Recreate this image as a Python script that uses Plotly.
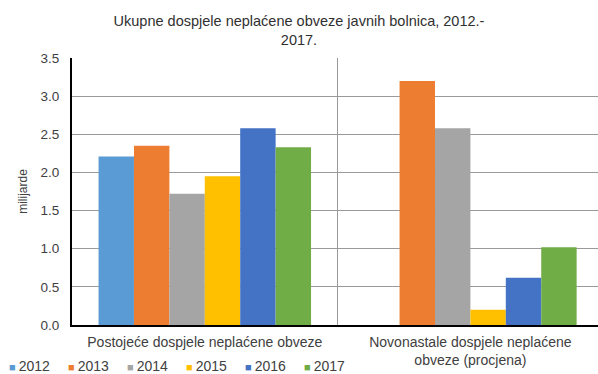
import plotly.graph_objects as go

# Data (billions of kuna)
categories = [
    "Postojeće dospjele neplaćene obveze",
    "Novonastale dospjele neplaćene<br>obveze (procjena)",
]
years = ["2012", "2013", "2014", "2015", "2016", "2017"]
values_2012 = [2.21, None]
values_2013 = [2.35, 3.20]
values_2014 = [1.72, 2.58]
values_2015 = [1.95, 0.20]
values_2016 = [2.58, 0.62]
values_2017 = [2.33, 1.02]
series = [values_2012, values_2013, values_2014, values_2015, values_2016, values_2017]
colors = ["#5B9BD5", "#ED7D31", "#A5A5A5", "#FFC000", "#4472C4", "#70AD47"]
y_ticks = [0.0, 0.5, 1.0, 1.5, 2.0, 2.5, 3.0, 3.5]

W, H = 598, 374
M_L, M_R, M_T, M_B = 72, 0, 58, 49
FONT = "Liberation Sans, Arial, sans-serif"
TEXT = "#404040"

fig = go.Figure()
for name, vals, col in zip(years, series, colors):
    fig.add_trace(go.Bar(
        x=categories, y=vals, name=name,
        marker=dict(color=col, line=dict(width=0)),
        showlegend=False,
    ))

# Compact legend row: coloured square + year label
plot_w = W - M_L - M_R
plot_h = H - M_T - M_B


def px_to_paper_x(px):
    return (px - M_L) / plot_w


def px_to_paper_y(py):
    return (H - M_B - py) / plot_h


legend_x0, legend_step, legend_y = 7, 59, 366
for i, (name, col) in enumerate(zip(years, colors)):
    fig.add_annotation(
        x=px_to_paper_x(legend_x0 + i * legend_step), y=px_to_paper_y(legend_y),
        xref="paper", yref="paper", xanchor="left", yanchor="middle",
        showarrow=False,
        text=f"<span style='color:{col};font-size:11px'>■ </span>{name}",
        font=dict(family=FONT, size=14, color=TEXT),
    )

fig.update_layout(
    width=W, height=H,
    margin=dict(l=M_L, r=M_R, t=M_T, b=M_B),
    paper_bgcolor="white", plot_bgcolor="white",
    barmode="group", bargap=0.2, bargroupgap=0,
    font=dict(family=FONT, size=13, color=TEXT),
    title=dict(
        text="Ukupne dospjele neplaćene obveze javnih bolnica, 2012.-<br>2017.",
        x=0.5, xref="container", xanchor="center",
        y=0.93, yref="container", yanchor="top",
        font=dict(family=FONT, size=14.5, color="#303030"),
    ),
    xaxis=dict(
        type="category",
        range=[-0.5, -0.5 + plot_w / 265.6],
        tickson="boundaries",
        showgrid=True, gridcolor="#9a9a9a", gridwidth=1,
        showline=True, linecolor="black", linewidth=2,
        ticks="", ticklabelstandoff=3,
        tickfont=dict(family=FONT, size=14, color=TEXT),
        zeroline=False, fixedrange=True,
    ),
    yaxis=dict(
        range=[0, 3.5],
        tickvals=y_ticks, tickformat=".1f",
        showgrid=True, gridcolor="#9a9a9a", gridwidth=1,
        showline=True, linecolor="black", linewidth=2,
        zeroline=False,
        ticks="", ticklabelstandoff=8,
        tickfont=dict(family=FONT, size=13.5, color=TEXT),
        title=dict(text="milijarde", standoff=10,
                   font=dict(family=FONT, size=12, color=TEXT)),
        automargin=False,
    ),
)

fig.write_html("out.html")
